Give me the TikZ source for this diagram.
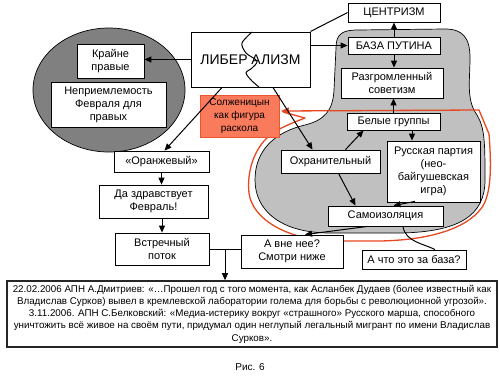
\documentclass[tikz,border=0pt]{standalone}
\usepackage{fontspec}
\setmainfont{Liberation Sans}
\usetikzlibrary{arrows.meta,calc,shapes.geometric}
\definecolor{blobgray}{RGB}{192,192,192}
\definecolor{ellgray}{RGB}{128,128,128}
\definecolor{redline}{RGB}{232,72,32}
\definecolor{solzfill}{RGB}{250,122,92}
\definecolor{solzdraw}{RGB}{235,85,50}
\tikzset{
  box/.style={draw=black, fill=white, line width=0.8pt, inner sep=0pt, align=center,
    font=\fontsize{11}{13}\selectfont},
  arr/.style={line width=1pt, -{Triangle[length=7pt,width=6pt]}},
  ln/.style={line width=1pt},
}
\begin{document}
\begin{tikzpicture}[x=1pt,y=-1pt]
\useasboundingbox[fill=white] (0,0) rectangle (500,375);
% left grey ellipse
\node[ellipse, draw=black, line width=0.7pt, fill=ellgray, minimum width=152pt, minimum height=124pt, inner sep=0pt] (ell) at (109,90) {};
% right grey blob
\draw[fill=blobgray, line width=0.7pt] (336,48) .. controls (336,34) and (342,30) .. (358,30) -- (445,29)
  .. controls (463,29) and (470,38) .. (470,58) .. controls (470,80) and (466,100) .. (477,115)
  .. controls (485,128) and (485,145) .. (485,180) .. controls (485,215) and (460,232) .. (400,233)
  -- (330,233) .. controls (280,233) and (255,210) .. (255,180) .. controls (255,150) and (275,132) .. (305,125)
  .. controls (325,120) and (333,110) .. (334,90) -- cycle;
% red outline
\coordinate (redtip) at (281,111);
\draw[redline, line width=1.3pt, line join=round, -{Triangle[length=8pt,width=7pt]}] (283,112) -- (305,118)
  .. controls (290,124) and (273,130) .. (264,141) .. controls (252,155) and (247,175) .. (249,193)
  .. controls (252,218) and (285,240) .. (335,241) -- (380,241)
  .. controls (435,240) and (472,226) .. (484,204) .. controls (492,188) and (491,160) .. (489,134)
  -- (479,110) -- (redtip);
% boxes
\node[box, minimum width=92pt, minimum height=19pt] (centr) at (394,12.5) {ЦЕНТРИЗМ};
\node[box, minimum width=92pt, minimum height=17pt] (baza) at (394,45.5) {БАЗА ПУТИНА};
\node[box, minimum width=102pt, minimum height=30pt] (razg) at (392,83) {Разгромленный\\советизм};
\node[box, minimum width=93pt, minimum height=17pt] (belye) at (393.5,121.5) {Белые группы};
\node[box, minimum width=99pt, minimum height=23pt] (ohr) at (330.5,161.5) {Охранительный};
\node[box, minimum width=93pt, minimum height=61pt] (rus) at (433.5,171.5) {Русская партия\\(нео-\\байгушевская\\игра)};
\node[box, minimum width=115pt, minimum height=20pt] (samo) at (385.5,216) {Самоизоляция};
\node[box, minimum width=102pt, minimum height=33pt] (vne) at (292,251.5) {А вне нее?\\Смотри ниже};
\node[box, minimum width=104pt, minimum height=19pt] (chto) at (414,259.5) {А что это за база?};
\node[box, minimum width=67pt, minimum height=34pt] (kr) at (110.5,61) {Крайне\\правые};
\node[box, minimum width=115pt, minimum height=45pt] (nepr) at (108.5,104.5) {Неприемлемость\\Февраля для\\правых};
\node[box, line width=1pt, minimum width=119pt, minimum height=55pt, font=\fontsize{14}{16}\selectfont] (lib) at (250.5,59.5) {ЛИБЕР АЛИЗМ};
\draw[line width=1pt] plot[smooth] coordinates {(252,32) (242,43) (246,53) (257,61) (252,68) (246,73) (252,81) (259,87)};
\node[draw=solzdraw, fill=solzfill, line width=0.8pt, inner sep=0pt, minimum width=79pt, minimum height=42pt, align=center, font=\fontsize{10}{13}\selectfont] (solz) at (239.5,116) {Солженицын\\как фигура\\раскола};
\node[box, minimum width=95pt, minimum height=21pt] (oran) at (161.5,161.5) {«Оранжевый»};
\node[box, minimum width=109pt, minimum height=33pt] (da) at (153.5,201.5) {Да здравствует\\Февраль!};
\node[box, minimum width=94pt, minimum height=32pt] (vstr) at (162,249) {Встречный\\поток};
\node[draw=black!85, line width=1.6pt, fill=white, inner sep=0pt, minimum width=490pt, minimum height=66pt, align=center, font=\fontsize{9.8}{12.3}\selectfont] (bot) at (252,314)
 {22.02.2006 АПН А.Дмитриев: «…Прошел год с того момента, как Асланбек Дудаев (более известный как\\
  Владислав Сурков) вывел в кремлевской лаборатории голема для борьбы с революционной угрозой».\\
  3.11.2006. АПН С.Белковский: «Медиа-истерику вокруг «страшного» Русского марша, способного\\
  уничтожить всё живое на своём пути, придумал один неглупый легальный мигрант по имени Владислав\\
  Сурков».};
\node[font=\fontsize{10}{12}\selectfont, inner sep=0pt] (fig) at (250,367) {Рис. 6};
% connectors
\draw[arr] (lib.west) -- (lib.west -| kr.east);
\draw[arr] ($(lib.south)+(-28.5,0)$) -- ($(oran.north)+(3,0)$);
\draw[ln] (lib.north east) -- (centr.west);
\draw[arr] (baza.west -| lib.east) -- (baza.west);
\draw[arr] ($(lib.south)+(22.5,0)$) -- ($(ohr.north)+(-18,0)$);
\draw[arr] (baza.north) -- (centr.south);
\draw[arr] (baza.south) -- (baza.south |- razg.north);
\draw[arr] (belye.north) -- (belye.north |- razg.south);
\coordinate (b1) at ($(belye.south)+(18.5,0)$);
\draw[arr] (b1) -- (b1 |- rus.north);
\draw[arr] ($(ohr.north)+(15,0)$) -- ($(belye.south)+(-30,0)$);
\draw[arr] ($(ohr.south)+(8,0)$) -- ($(samo.north)+(-30,0)$);
\draw[arr] ($(rus.south)+(-18.5,-1)$) -- ($(samo.north)+(8,0)$);
\draw[arr] ($(samo.south)+(-18,0)$) -- ($(vne.north)+(13,0)$);
\draw[ln] ($(samo.south)+(17.5,0)$) .. controls (405,242) and (425,244) .. ($(chto.north)+(21,0)$);
\draw[arr] (oran.south) -- (oran.south |- da.north);
\draw[arr] (vstr.north |- da.south) -- (vstr.north);
\coordinate (vr) at (vstr.east -| vne.west);
\draw[ln] (vstr.east) -- (vr);
\coordinate (j) at ($(vstr.east)!0.5!(vr)$);
\draw[arr] (j) -- (j |- bot.north);
\end{tikzpicture}
\end{document}
